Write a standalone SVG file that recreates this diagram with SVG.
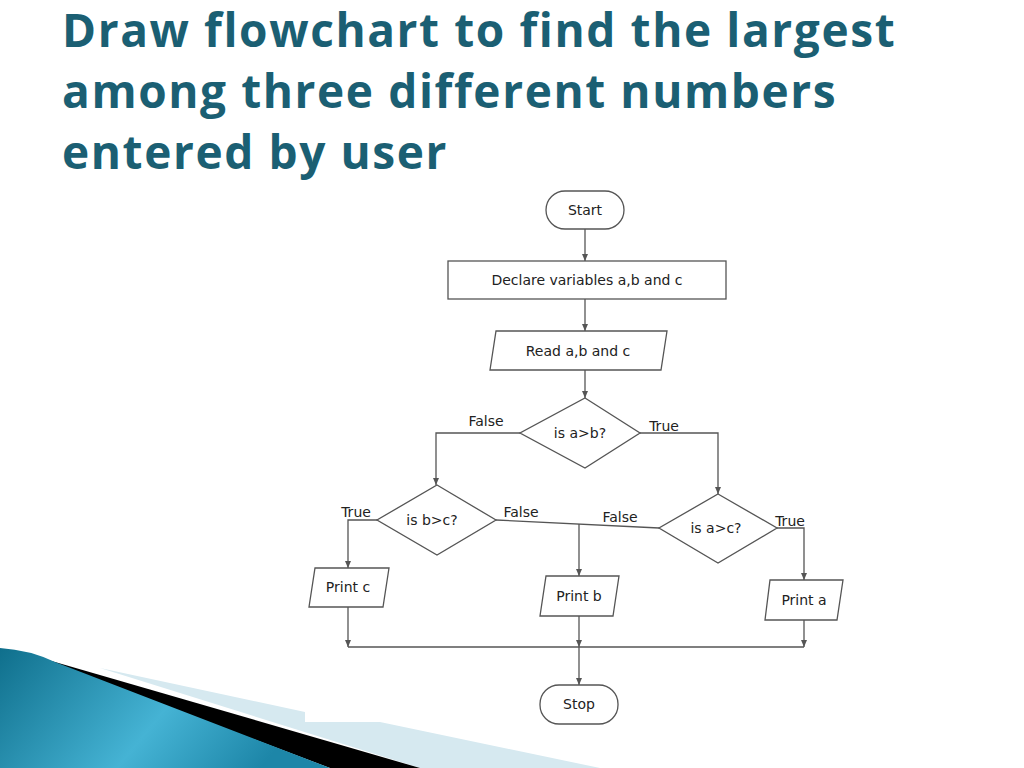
<svg xmlns="http://www.w3.org/2000/svg" width="1024" height="768" viewBox="0 0 1024 768">
<defs>
<style>
.t{font-family:"Open Sans","DejaVu Sans",sans-serif;font-weight:bold;font-size:46px;letter-spacing:1.6px;fill:#1b5f73}
.s{fill:#fff;stroke:#555;stroke-width:1.3}
.n{font-family:"DejaVu Sans",sans-serif;font-size:14px;fill:#222;text-anchor:middle;font-weight:500}
.l{font-family:"DejaVu Sans",sans-serif;font-size:14px;fill:#222;text-anchor:middle}
.c{fill:none;stroke:#555;stroke-width:1.3;marker-end:url(#a)}
.p{fill:none;stroke:#555;stroke-width:1.3}
</style>
<marker id="a" markerWidth="8" markerHeight="8" refX="7" refY="4" orient="auto" markerUnits="userSpaceOnUse"><path d="M0,1 L7,4 L0,7Z" fill="#555"/></marker>
<linearGradient id="g" x1="0" y1="0" x2="1" y2="0.3"><stop offset="0" stop-color="#0f6f8c"/><stop offset="0.6" stop-color="#45b3d4"/><stop offset="1" stop-color="#1d86a8"/></linearGradient>
</defs>
<rect width="1024" height="768" fill="#fff"/>
<g id="deco">
<polygon points="100,668 305,712 305,722 380,722 600,768 420,768" fill="#d6e9f0"/>
<polygon points="55,662 420,768 330,768 30,655" fill="#000"/>
<path d="M0,648 Q30,650 55,662 L330,768 L0,768Z" fill="url(#g)"/>
</g>
<g id="title">
<text class="t" x="62" y="47">Draw flowchart to find the largest</text>
<text class="t" x="62" y="108">among three different numbers</text>
<text class="t" x="62" y="169">entered by user</text>
</g>
<g id="connectors">
<path class="c" d="M585,229 V261"/>
<path class="c" d="M585,299 V331"/>
<path class="c" d="M585,370 V398"/>
<path class="c" d="M520,433 H436 V485"/>
<path class="c" d="M640,433 H718 V494"/>
<path class="c" d="M377,520 H348 V568"/>
<path class="p" d="M496,520 L659,528"/>
<path class="c" d="M579,524 V576"/>
<path class="c" d="M777,528 H804 V580"/>
<path class="c" d="M348,607 V647"/>
<path class="c" d="M579,616 V647"/>
<path class="c" d="M804,620 V647"/>
<path class="p" d="M348,647 H804"/>
<path class="c" d="M579,647 V685"/>
<text class="l" x="486" y="426">False</text>
<text class="l" x="664" y="431">True</text>
<text class="l" x="356" y="517">True</text>
<text class="l" x="521" y="517">False</text>
<text class="l" x="620" y="522">False</text>
<text class="l" x="790" y="526">True</text>
</g>
<g id="start"><rect class="s" x="546" y="191" width="78" height="38" rx="19"/><text class="n" x="585" y="215">Start</text></g>
<g id="declare"><rect class="s" x="448" y="261" width="278" height="38"/><text class="n" x="587" y="285">Declare variables a,b and c</text></g>
<g id="read"><polygon class="s" points="496,331 667,331 661,370 490,370"/><text class="n" x="578" y="356">Read a,b and c</text></g>
<g id="d1"><polygon class="s" points="585,398 640,433 585,468 520,433"/><text class="n" x="580" y="438">is a&gt;b?</text></g>
<g id="d2"><polygon class="s" points="437,485 496,520 437,555 377,520"/><text class="n" x="432" y="525">is b&gt;c?</text></g>
<g id="d3"><polygon class="s" points="718,494 777,528 718,563 659,528"/><text class="n" x="716" y="533">is a&gt;c?</text></g>
<g id="printc"><polygon class="s" points="315,568 389,568 383,607 309,607"/><text class="n" x="348" y="592">Print c</text></g>
<g id="printb"><polygon class="s" points="546,576 619,576 613,616 540,616"/><text class="n" x="579" y="601">Print b</text></g>
<g id="printa"><polygon class="s" points="770,580 843,580 837,620 765,620"/><text class="n" x="804" y="605">Print a</text></g>
<g id="stop"><rect class="s" x="540" y="685" width="78" height="39" rx="19"/><text class="n" x="579" y="709">Stop</text></g>
</svg>
